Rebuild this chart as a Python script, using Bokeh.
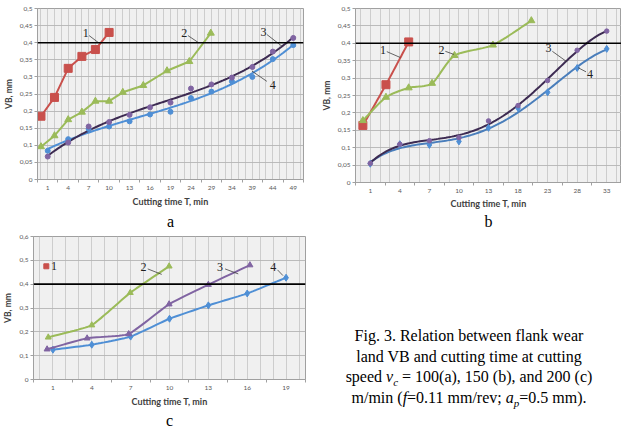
import numpy as np
from bokeh.plotting import figure
from bokeh.models import FixedTicker, CustomJSTickFormatter, Span, Title, Div
from bokeh.core.properties import value
from bokeh.layouts import column, row
from bokeh.embed import file_html
from bokeh.resources import INLINE

# ---------------- data ----------------
# chart a  (x = slot on the category axis, label k sits at slot k)
a_labels = ["1", "4", "7", "10", "13", "16", "19", "24", "29", "34", "39", "44", "49"]
a_s1_x = [-0.33, 0.33, 1.0, 1.67, 2.33, 3.0]
a_s1_vb = [0.185, 0.240, 0.325, 0.360, 0.380, 0.430]
a_s2_x = [-0.33, 0.33, 1.0, 1.67, 2.33, 3.0, 3.67, 4.67, 5.83, 6.92, 7.97]
a_s2_vb = [0.096, 0.128, 0.175, 0.197, 0.229, 0.229, 0.255, 0.275, 0.318, 0.345, 0.428]
a_s3_vb = [0.067, 0.108, 0.155, 0.168, 0.189, 0.211, 0.225, 0.266, 0.278, 0.298, 0.329, 0.374, 0.414]
a_s4_vb = [0.084, 0.118, 0.148, 0.155, 0.170, 0.190, 0.198, 0.238, 0.257, 0.287, 0.300, 0.352, 0.393]

# chart b
b_labels = ["1", "4", "7", "10", "13", "18", "23", "28", "33"]
b_s1_x = [-0.25, 0.53, 1.30]
b_s1_vb = [0.164, 0.281, 0.404]
b_s2_x = [-0.25, 0.53, 1.30, 2.09, 2.85, 4.15, 5.45]
b_s2_vb = [0.178, 0.245, 0.272, 0.285, 0.365, 0.395, 0.465]
b_s3_vb = [0.055, 0.110, 0.120, 0.129, 0.177, 0.221, 0.293, 0.380, 0.435]
b_s4_vb = [0.054, 0.110, 0.108, 0.118, 0.157, 0.214, 0.259, 0.329, 0.384]

# chart c
c_labels = ["1", "4", "7", "10", "13", "16", "19"]
c_s1_x = [-0.17]
c_s1_vb = [0.475]
c_s2_x = [-0.12, 1.0, 1.99, 2.99]
c_s2_vb = [0.177, 0.228, 0.364, 0.475]
c_s3_x = [-0.15, 0.88, 1.95, 2.99, 4.0, 5.07]
c_s3_vb = [0.127, 0.173, 0.191, 0.316, 0.398, 0.480]
c_s4_x = [0, 1, 2, 3, 4, 5, 6]
c_s4_vb = [0.125, 0.146, 0.180, 0.255, 0.311, 0.361, 0.427]

VB_LIMIT = 0.4

RED = "#c9504c"
GREEN = "#9bbb59"
PURPLE = "#8064a2"
DARK = "#3d2b52"
BLUE = "#4f8fd5"
STEEL = "#4a7ebb"

X_TITLE = "Cutting time T, min"
Y_TITLE = "VB, mm"


def smooth(xs, ys, n=14, k=0.35):
    xs = np.asarray(xs, float)
    ys = np.asarray(ys, float)
    if len(xs) < 3:
        return xs, ys
    P = np.column_stack([xs, ys])
    P = np.vstack([2 * P[0] - P[1], P, 2 * P[-1] - P[-2]])
    out = []
    t = np.linspace(0, 1, n, endpoint=False)[:, None]
    for i in range(1, len(P) - 2):
        p0, p1, p2, p3 = P[i - 1], P[i], P[i + 1], P[i + 2]
        m1 = k * (p2 - p0)
        m2 = k * (p3 - p1)
        h00 = 2 * t**3 - 3 * t**2 + 1
        h10 = t**3 - 2 * t**2 + t
        h01 = -2 * t**3 + 3 * t**2
        h11 = t**3 - t**2
        out.append(h00 * p1 + h10 * m1 + h01 * p2 + h11 * m2)
    out.append(P[-2][None, :])
    out = np.vstack(out)
    return out[:, 0], out[:, 1]


def trend(xs, ys, deg):
    c = np.polyfit(xs, ys, deg)
    xx = np.linspace(min(xs), max(xs), 120)
    return xx, np.polyval(c, xx)


def make_fig(labels, y_end, y_step, fw, fh, bl, br, bt, bb, sub, sub_standoff,
             xl_standoff, sub_lh=1.0, sub_va="bottom"):
    n = len(labels)
    p = figure(frame_width=fw, frame_height=fh, x_range=(-0.5, n - 0.5),
               y_range=(0, y_end), output_backend="svg", toolbar_location=None,
               min_border_left=bl, min_border_right=br, min_border_top=bt,
               min_border_bottom=bb)
    p.background_fill_color = "#f0f0f0"
    p.border_fill_color = "white"
    p.outline_line_color = "#a0a0a0"
    p.outline_line_width = 1

    nt = int(round(y_end / y_step))
    yt = [round(i * y_step, 2) for i in range(nt + 1)]

    xa = p.xaxis[0]
    xa.ticker = FixedTicker(ticks=list(range(n)),
                            minor_ticks=[i + 0.5 for i in range(-1, n)])
    xa.major_label_overrides = {i: lab for i, lab in enumerate(labels)}
    xa.major_tick_out = 0
    xa.major_tick_in = 0
    xa.minor_tick_out = 3
    xa.minor_tick_in = 0
    xa.minor_tick_line_color = "#a0a0a0"
    xa.axis_line_color = "#a0a0a0"
    xa.major_label_text_font = "Lato"
    xa.major_label_text_font_size = "6.5px"
    xa.major_label_text_color = "#595959"
    xa.major_label_standoff = 3
    xa.axis_label = X_TITLE
    xa.axis_label_text_font = "Lato"
    xa.axis_label_text_font_style = "bold"
    xa.axis_label_text_font_size = "9px"
    xa.axis_label_text_color = "#404040"
    xa.axis_label_standoff = xl_standoff

    ya = p.yaxis[0]
    ya.ticker = FixedTicker(ticks=yt, minor_ticks=[])
    ya.formatter = CustomJSTickFormatter(
        code="var s = tick.toFixed(2); s = s.replace(/0+$/, ''); s = s.replace(/\\.$/, ''); return s.replace('.', ',');")
    ya.major_tick_out = 3
    ya.major_tick_in = 0
    ya.major_tick_line_color = "#a0a0a0"
    ya.axis_line_color = "#a0a0a0"
    ya.major_label_text_font = "Lato"
    ya.major_label_text_font_size = "6.5px"
    ya.major_label_text_color = "#595959"
    ya.major_label_standoff = 2
    ya.axis_label = Y_TITLE
    ya.axis_label_text_font = "Lato"
    ya.axis_label_text_font_style = "bold"
    ya.axis_label_text_font_size = "8.5px"
    ya.axis_label_text_color = "#404040"
    ya.axis_label_standoff = 3

    p.xgrid.ticker = FixedTicker(ticks=[k / 3 for k in range(-1, 3 * (n - 1) + 2)])
    p.xgrid.grid_line_color = "#c4c4c4"
    p.xgrid.grid_line_width = 0.8
    p.ygrid.ticker = FixedTicker(ticks=yt)
    p.ygrid.grid_line_color = "#b4b4b4"
    p.ygrid.grid_line_width = 0.9

    p.add_layout(Span(location=VB_LIMIT, dimension="width", line_color="black",
                      line_width=1.6))
    p.add_layout(Title(text=sub, text_font="Liberation Serif", text_font_size="16px",
                       text_font_style="normal", align="center", standoff=sub_standoff,
                       text_color="black", text_line_height=sub_lh,
                       vertical_align=sub_va), "below")
    return p


def annotate(p, tx, ty, txt, seg=None):
    p.text(x=[tx], y=[ty], text=[txt], text_font=value("Liberation Serif"),
           text_font_size="12px", text_align="center", text_baseline="middle",
           text_color="#202020")
    if seg is not None:
        p.segment(x0=[seg[0]], y0=[seg[1]], x1=[seg[2]], y1=[seg[3]],
                  line_color="#404040", line_width=0.8)


# ---------------- chart a ----------------
pa = make_fig(a_labels, 0.5, 0.05, 266, 171, 31, 15, 8, 48, "a", 3, 3)
xa3 = list(range(len(a_s3_vb)))
xa4 = list(range(len(a_s4_vb)))
pa.line(a_s1_x, a_s1_vb, line_color=RED, line_width=2)
pa.scatter(a_s1_x, a_s1_vb, marker="square", size=8, color=RED)
pa.line(a_s2_x, a_s2_vb, line_color=GREEN, line_width=2)
pa.scatter(a_s2_x, a_s2_vb, marker="triangle", size=7, color=GREEN)
tx, ty = trend(xa4, a_s4_vb, 3)
pa.line(tx, ty, line_color=BLUE, line_width=2)
tx, ty = trend(xa3, a_s3_vb, 3)
pa.line(tx, ty, line_color=DARK, line_width=2)
pa.scatter(xa4, a_s4_vb, marker="circle", size=5, color=BLUE)
pa.scatter(xa3, a_s3_vb, marker="circle", size=5, color=PURPLE)
annotate(pa, 1.86, 0.428, "1", (2.02, 0.421, 2.48, 0.400))
annotate(pa, 6.67, 0.428, "2", (6.85, 0.421, 7.37, 0.400))
annotate(pa, 10.55, 0.431, "3", (10.71, 0.424, 11.44, 0.390))
annotate(pa, 11.0, 0.277, "4", (10.71, 0.287, 9.98, 0.317))

# ---------------- chart b ----------------
pb = make_fig(b_labels, 0.5, 0.05, 266, 174, 30, 0, 2, 51, "b", 0, 2,
              sub_lh=1.45, sub_va="middle")
xb3 = list(range(len(b_s3_vb)))
xb4 = list(range(len(b_s4_vb)))
sx, sy = smooth(b_s1_x, b_s1_vb)
pb.line(sx, sy, line_color=RED, line_width=2)
pb.scatter(b_s1_x, b_s1_vb, marker="square", size=8, color=RED)
sx, sy = smooth(b_s2_x, b_s2_vb)
pb.line(sx, sy, line_color=GREEN, line_width=2)
pb.scatter(b_s2_x, b_s2_vb, marker="triangle", size=7, color=GREEN)
tx, ty = trend(xb4, b_s4_vb, 4)
pb.line(tx, ty, line_color=STEEL, line_width=2)
tx, ty = trend(xb3, b_s3_vb, 4)
pb.line(tx, ty, line_color=DARK, line_width=2)
pb.scatter(xb4, b_s4_vb, marker="diamond", size=7, color=BLUE)
pb.scatter(xb3, b_s3_vb, marker="circle", size=4.5, color=PURPLE)
annotate(pb, 0.43, 0.382, "1", (0.56, 0.376, 1.02, 0.359))
annotate(pb, 2.41, 0.382, "2", (2.54, 0.377, 2.83, 0.368))
annotate(pb, 6.03, 0.386, "3", (6.16, 0.377, 6.65, 0.347))
annotate(pb, 7.43, 0.311, "4", (7.30, 0.318, 7.03, 0.330))

# ---------------- chart c ----------------
pc = make_fig(c_labels, 0.6, 0.1, 272, 143, 26, 8, 5, 42, "c", 0, 3)
pc.scatter(c_s1_x, c_s1_vb, marker="square", size=5, color=RED)
sx, sy = smooth(c_s2_x, c_s2_vb, k=0.2)
pc.line(sx, sy, line_color=GREEN, line_width=2)
pc.scatter(c_s2_x, c_s2_vb, marker="triangle", size=6, color=GREEN)
sx, sy = smooth(c_s4_x, c_s4_vb, k=0.2)
pc.line(sx, sy, line_color=BLUE, line_width=2)
pc.scatter(c_s4_x, c_s4_vb, marker="diamond", size=7, color=BLUE)
sx, sy = smooth(c_s3_x, c_s3_vb, k=0.2)
pc.line(sx, sy, line_color=PURPLE, line_width=2)
pc.scatter(c_s3_x, c_s3_vb, marker="triangle", size=6, color=PURPLE)
pc.text(x=[-0.05], y=[0.475], text=["1"], text_font=value("Liberation Serif"),
        text_font_size="12px", text_align="left", text_baseline="middle",
        text_color="#202020")
annotate(pc, 2.33, 0.472, "2", (2.44, 0.464, 2.80, 0.441))
annotate(pc, 4.30, 0.474, "3", (4.43, 0.464, 4.77, 0.443))
annotate(pc, 5.67, 0.474, "4", (5.78, 0.460, 5.92, 0.436))

# ---------------- caption ----------------
cap_html = (
    "<div style=\"width:290px; padding-left:12px; padding-top:90px; text-align:center; "
    "font-family:'Liberation Serif', serif; font-size:16px; line-height:20.7px; "
    "white-space:nowrap; color:#000;\">"
    "Fig. 3. Relation between flank wear<br>"
    "land VB and cutting time at cutting<br>"
    "speed <i>v<sub style='font-size:11px; line-height:0;'>c</sub></i> = 100(a), 150 (b), and 200 (c)<br>"
    "m/min (<i>f</i>=0.11 mm/rev; <i>a<sub style='font-size:11px; line-height:0;'>p</sub></i>=0.5 mm)."
    "</div>"
)
cap = Div(text=cap_html, width=302, height=188)

layout = column(row(pa, pb, spacing=0), row(pc, cap, spacing=0), spacing=0)

open("out.html", "w").write(file_html(layout, INLINE))
